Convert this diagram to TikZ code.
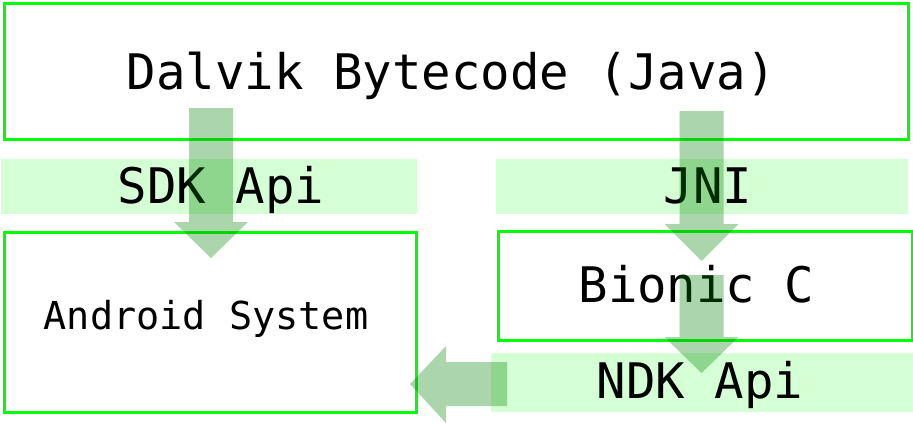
\documentclass[tikz,border=0pt]{standalone}
\usepackage{fontspec}
\newfontfamily\monofont{DejaVu Sans Mono}
\definecolor{boxgreen}{RGB}{0,255,0}
\definecolor{bandgreen}{RGB}{213,255,213}
\definecolor{arrowgreen}{RGB}{0,128,0}
\tikzset{
  box/.style={draw=boxgreen, line width=3.4pt, inner sep=0pt, anchor=north west, rectangle},
  band/.style={fill=bandgreen, draw=none, inner sep=0pt, anchor=north west, rectangle},
  biglbl/.style={font=\monofont\fontsize{49}{58}\selectfont, anchor=base, inner sep=0pt},
  smalllbl/.style={font=\monofont\fontsize{38.5}{46}\selectfont, anchor=base, inner sep=0pt},
  blockarrow/.style={fill=arrowgreen, fill opacity=0.33, draw=none},
}
\newcommand\vblock[4]{\fill[blockarrow] (#1-22,#2) -- (#1+22,#2) -- (#1+22,#3) -- (#1+37,#3) -- (#1,#4) -- (#1-37,#3) -- (#1-22,#3) -- cycle;}
\begin{document}
\begin{tikzpicture}[x=1pt,y=-1pt]
\useasboundingbox (0,0) rectangle (913,423);
% bands
\node[band, minimum width=416pt, minimum height=55pt] (sdkband) at (1,159) {};
\node[band, minimum width=412pt, minimum height=55pt] (jniband) at (496,159) {};
\node[band, minimum width=422pt, minimum height=59pt] (ndkband) at (491,353) {};
% boxes
\node[box, minimum width=904pt, minimum height=136pt] (dalvik) at (2.5,1.5) {};
\node[box, minimum width=412pt, minimum height=180pt] (android) at (2.5,231) {};
\node[box, minimum width=413.5pt, minimum height=109pt] (bionic) at (497,229.5) {};
% labels
\node[biglbl] (dalviklbl) at (451.5,89) {Dalvik Bytecode (Java)};
\node[biglbl] (sdklbl) at (221,203) {SDK Api};
\node[smalllbl] (androidlbl) at (206,329) {Android System};
\node[biglbl] (jnilbl) at (708,203) {JNI};
\node[biglbl] (bioniclbl) at (696.5,302) {Bionic C};
\node[biglbl] (ndklbl) at (700,398) {NDK Api};
% block arrows
\vblock{211}{108}{222}{258}
\vblock{701.5}{111}{224}{261}
\vblock{701.5}{275}{337}{373}
\fill[blockarrow] (507,362) -- (507,406) -- (446,406) -- (446,423) -- (410,384) -- (446,346) -- (446,362) -- cycle;
\end{tikzpicture}
\end{document}
